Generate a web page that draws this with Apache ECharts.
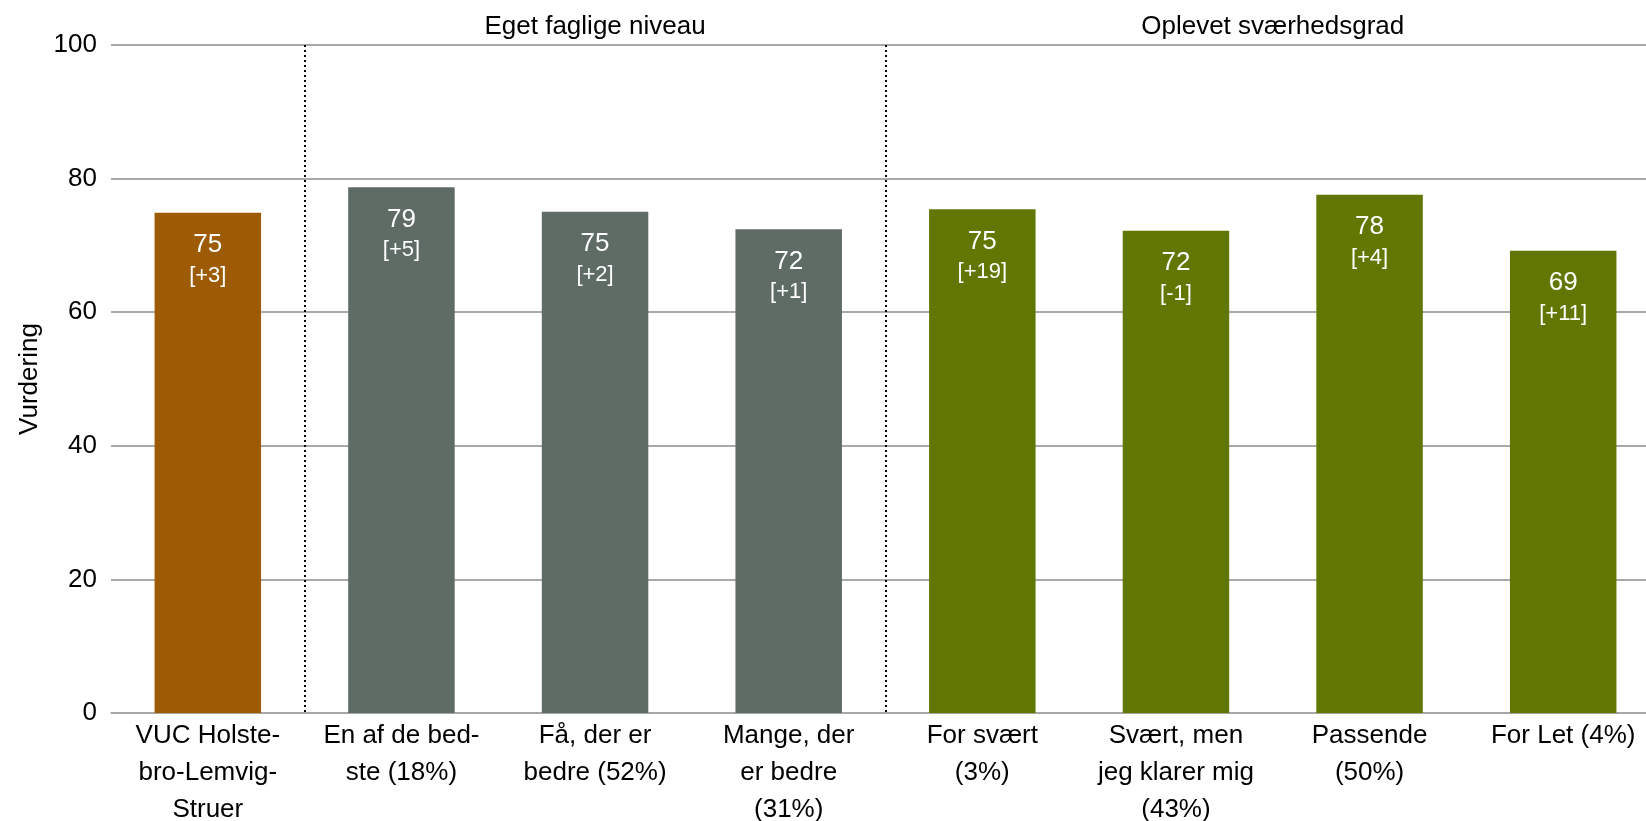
<!DOCTYPE html>
<html>
<head>
<meta charset="utf-8">
<script src="https://cdn.jsdelivr.net/npm/echarts@6/dist/echarts.min.js"></script>
<style>
	html, body { margin: 0; padding: 0; background: #fff; }
	#main { width: 1646px; height: 821px; }
</style>
</head>
<body>
<div id="main"></div>
<script>
var categories = [
	'VUC Holste-\nbro-Lemvig-\nStruer',
	'En af de bed-\nste (18%)',
	'Få, der er\nbedre (52%)',
	'Mange, der\ner bedre\n(31%)',
	'For svært\n(3%)',
	'Svært, men\njeg klarer mig\n(43%)',
	'Passende\n(50%)',
	'For Let (4%)'
]
var values = [74.9, 78.7, 75.05, 72.4, 75.4, 72.2, 77.6, 69.2]
var deltas = ['+3', '+5', '+2', '+1', '+19', '-1', '+4', '+11']
var groups = ['', 'Eget faglige niveau', 'Oplevet sværhedsgrad']
var groupIndex = [0, 1, 1, 1, 2, 2, 2, 2]
var groupColors = ['#9C5B04', '#5E6C65', '#607803']
var yTicks = [0, 20, 40, 60, 80, 100]

var font = 'Liberation Sans, Arial, sans-serif'

var myChart = echarts.init(document.getElementById('main'))
myChart.setOption({
	animation: false,
	textStyle: { fontFamily: font },
	grid: {
		left: 111,
		right: -14,
		top: 45,
		bottom: 108,
		outerBoundsMode: 'none',
		containLabel: false
	},
	xAxis: {
		type: 'category',
		data: categories,
		axisLine: { lineStyle: { color: '#a6a6a6', width: 1.5 } },
		axisTick: { show: false },
		axisLabel: {
			color: '#000',
			fontSize: 26,
			lineHeight: 37,
			margin: 4,
			interval: 0
		},
		splitLine: {
			show: true,
			interval: function (index) {
				return index === 1 || index === 4
			},
			lineStyle: { color: '#000', type: [2, 3], width: 2 }
		}
	},
	yAxis: {
		type: 'value',
		min: yTicks[0],
		max: yTicks[yTicks.length - 1],
		interval: 20,
		name: 'Vurdering',
		nameLocation: 'middle',
		nameGap: 68,
		nameTextStyle: { color: '#000', fontSize: 26 },
		axisLine: { show: false },
		axisTick: { show: false },
		axisLabel: { color: '#000', fontSize: 26, margin: 14 },
		splitLine: { lineStyle: { color: '#8c8c8c', width: 1.5 } }
	},
	series: [
		{
			type: 'bar',
			barWidth: '55%',
			data: values.map(function (v, i) {
				return {
					value: v,
					itemStyle: { color: groupColors[groupIndex[i]] }
				}
			}),
			label: {
				show: true,
				position: 'insideTop',
				distance: 17,
				formatter: function (p) {
					return '{v|' + Math.round(p.value) + '}\n{d|[' + deltas[p.dataIndex] + ']}'
				},
				rich: {
					v: { color: '#fff', fontSize: 26, lineHeight: 31, fontFamily: font },
					d: { color: '#fff', fontSize: 22, lineHeight: 30, fontFamily: font }
				}
			}
		}
	]
})

// group headers centred over their categories
var headers = []
for (var g = 1; g < groups.length; g++) {
	var xs = []
	groupIndex.forEach(function (gi, i) {
		if (gi === g) xs.push(myChart.convertToPixel({ xAxisIndex: 0 }, i))
	})
	var cx = (xs[0] + xs[xs.length - 1]) / 2
	headers.push({
		type: 'text',
		x: cx,
		y: 27,
		style: {
			text: groups[g],
			fill: '#000',
			font: '26px ' + font,
			align: 'center',
			verticalAlign: 'middle'
		}
	})
}
myChart.setOption({ graphic: headers })
</script>
</body>
</html>
